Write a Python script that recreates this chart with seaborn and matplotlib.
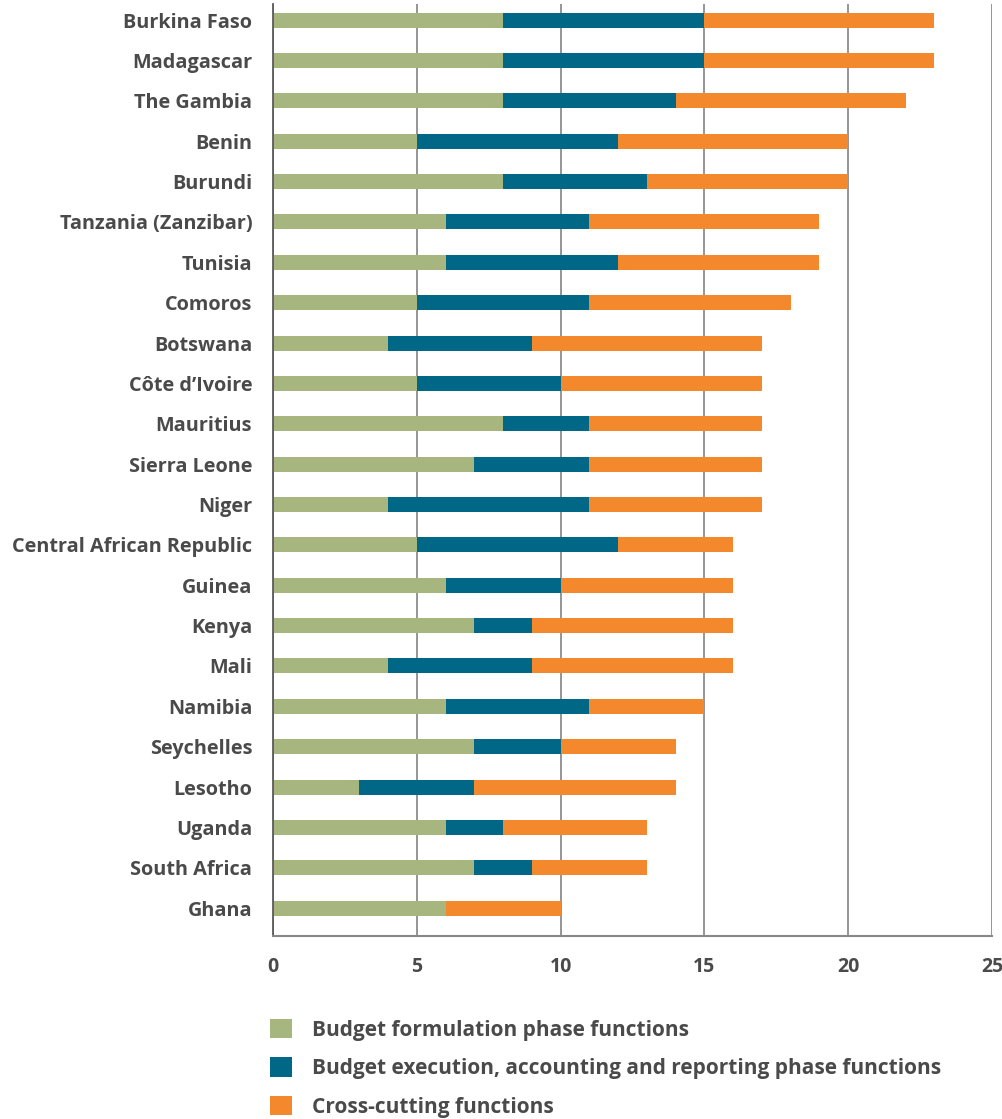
import numpy as np
import pandas as pd
import matplotlib
matplotlib.use("Agg")
import matplotlib.pyplot as plt
from matplotlib.patches import Patch
import seaborn as sns

# data
countries = ["Burkina Faso", "Madagascar", "The Gambia", "Benin", "Burundi",
             "Tanzania (Zanzibar)", "Tunisia", "Comoros", "Botswana", "Côte d’Ivoire",
             "Mauritius", "Sierra Leone", "Niger", "Central African Republic", "Guinea",
             "Kenya", "Mali", "Namibia", "Seychelles", "Lesotho", "Uganda",
             "South Africa", "Ghana"]
formulation = [8, 8, 8, 5, 8, 6, 6, 5, 4, 5, 8, 7, 4, 5, 6, 7, 4, 6, 7, 3, 6, 7, 6]
execution = [7, 7, 6, 7, 5, 5, 6, 6, 5, 5, 3, 4, 7, 7, 4, 2, 5, 5, 3, 4, 2, 2, 0]
crosscutting = [8, 8, 8, 8, 7, 8, 7, 7, 8, 7, 6, 6, 6, 4, 6, 7, 7, 4, 4, 7, 5, 4, 4]
series_names = ["Budget formulation phase functions",
                "Budget execution, accounting and reporting phase functions",
                "Cross-cutting functions"]
colors = ["#A7B57F", "#006886", "#F4882D"]

df = pd.DataFrame({"country": countries, "f": formulation,
                   "e": execution, "c": crosscutting})
df["fe"] = df["f"] + df["e"]
df["total"] = df["fe"] + df["c"]

sns.set_theme(style="white")
plt.rcParams["font.family"] = ["Open Sans", "DejaVu Sans"]
textc = "#4a4a4a"

fig = plt.figure(figsize=(10.03, 11.19), dpi=100)
ax = fig.add_axes([273 / 1003, 1 - 936 / 1119, (992 - 273) / 1003, (936 - 4) / 1119])

# stacked bars: draw cumulative totals back to front
for col, colr in zip(["total", "fe", "f"], colors[::-1]):
    sns.barplot(data=df, x=col, y="country", orient="h", color=colr,
                width=0.37, saturation=1, ax=ax, linewidth=0)

ax.set_xlim(0, 25)
ax.set_ylim(22.69, -0.4)
ax.set_xlabel("")
ax.set_ylabel("")
ax.set_xticks([0, 5, 10, 15, 20, 25])
ax.xaxis.grid(True, color="#8c8c8c", linewidth=1.3)
ax.set_axisbelow(True)
ax.tick_params(axis="x", length=0, pad=15, labelsize=14, labelcolor=textc)
ax.tick_params(axis="y", which="major", length=0, pad=15, labelsize=14.3, labelcolor=textc)
ax.set_yticks(np.arange(0.5, 22, 1), minor=True)
ax.tick_params(axis="y", which="minor", direction="inout", length=9, width=1, color="#555555")
for lab in ax.get_xticklabels() + ax.get_yticklabels():
    lab.set_fontweight("bold")

sns.despine(ax=ax, top=True, right=True)
ax.spines["left"].set_color("#555555")
ax.spines["bottom"].set_color("#888888")
ax.spines["bottom"].set_linewidth(1.5)

handles = [Patch(facecolor=c, edgecolor="none") for c in colors]
leg = fig.legend(handles, series_names, loc="upper left",
                 bbox_to_anchor=(270 / 1003, 1 - 1019 / 1119), frameon=False,
                 borderpad=0, borderaxespad=0,
                 handlelength=1.05, handleheight=1.05, handletextpad=0.95,
                 labelspacing=0.8, prop={"size": 15, "weight": "bold"})
for t in leg.get_texts():
    t.set_color(textc)

fig.savefig("out.png", dpi=100)
